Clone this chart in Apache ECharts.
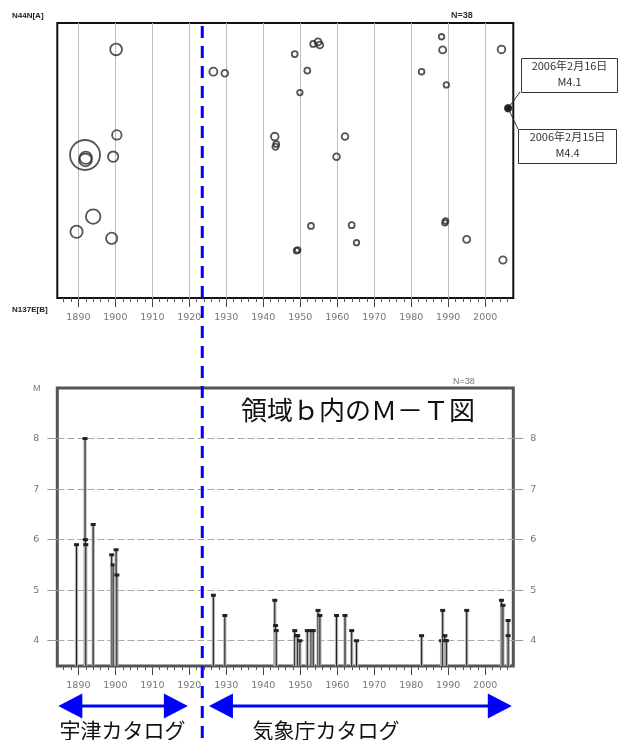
<!DOCTYPE html>
<html><head><meta charset="utf-8">
<script src="https://cdn.jsdelivr.net/npm/echarts@6/dist/echarts.min.js"></script>
<style>html,body{margin:0;padding:0;background:#fff}#c{width:632px;height:740px}</style>
</head><body><div id="c"></div>
<script>
// ---- data (38 events in region b) ----
const years = [1889.5, 1891.8, 1891.9, 1892.0, 1894.0, 1899.0, 1899.4, 1900.2, 1900.4,
  1926.5, 1929.6, 1943.1, 1943.3, 1943.5, 1948.5, 1949.0, 1949.3, 1949.9, 1951.9, 1952.9,
  1953.5, 1954.8, 1955.3, 1959.8, 1962.1, 1963.9, 1965.2, 1982.8, 1988.2, 1988.5, 1989.1,
  1989.3, 1989.5, 1995.0, 2004.4, 2004.8, 2006.2, 2006.2];
const mags = [5.9, 8.0, 6.0, 5.9, 6.3, 5.7, 5.5, 5.8, 5.3,
  4.9, 4.5, 4.8, 4.3, 4.2, 4.2, 4.1, 4.1, 4.0, 4.2, 4.2,
  4.2, 4.6, 4.5, 4.5, 4.5, 4.2, 4.0, 4.1, 4.0, 4.6, 4.1,
  4.0, 4.0, 4.6, 4.8, 4.7, 4.4, 4.1];
// position along profile A (0) -> B (100)
const positions = [75.9, 48.0, 49.8, 49.0, 70.4, 78.3, 48.6, 9.6, 40.7,
  17.7, 18.3, 41.3, 45.0, 44.0, 11.3, 82.8, 82.5, 25.3, 17.3, 73.8,
  7.6, 6.9, 8.0, 48.6, 41.3, 73.5, 79.9, 17.7, 5.0, 9.8, 72.6,
  72.0, 22.5, 78.7, 9.6, 86.2, 31.0, 31.0];
const decadeTicks = [1890, 1900, 1910, 1920, 1930, 1940, 1950, 1960, 1970, 1980, 1990, 2000];
const magTicks = [4, 5, 6, 7, 8];
const profileLabels = ['N44N[A]', 'N137E[B]'];
const countLabel = 'N=38';
const calloutDates = ['2006年2月16日', '2006年2月15日'];
const calloutMags = ['M4.1', 'M4.4'];
const titleText = '領域ｂ内のＭ－Ｔ図';
const catalogNames = ['宇津カタログ', '気象庁カタログ'];
const catalogBoundary = 1923.5;

// ---- layout ----
const X_MIN = 1884.3, X_MAX = 2007.6;
const M_MIN = 3.5, M_MAX = 9;
const minorTicks = [];
for (let y = 1886; y <= 2006; y += 2) minorTicks.push(y);

const scatterData = years.map((y, i) => [y, positions[i], mags[i]]);
const mtData = years.map((y, i) => [y, mags[i]]);

const labelFont = 'DejaVu Sans';
const axisLabelStyle = {color: '#777', fontSize: 9.5, fontFamily: labelFont, formatter: v => String(v)};

function majorX(grid, split) {
  return {
    gridIndex: grid, type: 'value', min: X_MIN, max: X_MAX, position: 'bottom',
    axisLine: {show: false, onZero: false},
    axisTick: {customValues: decadeTicks, length: 9, lineStyle: {color: '#444', width: 1}},
    axisLabel: Object.assign({customValues: decadeTicks, margin: 15}, axisLabelStyle),
    splitLine: {show: split, lineStyle: {color: '#bdbdbd', width: 1}}
  };
}
function minorX(grid) {
  return {
    gridIndex: grid, type: 'value', min: X_MIN, max: X_MAX, position: 'bottom',
    axisLine: {show: false, onZero: false},
    axisTick: {customValues: minorTicks, length: 4, lineStyle: {color: '#555', width: 1}},
    axisLabel: {show: false}, splitLine: {show: false}
  };
}

const chart = echarts.init(document.getElementById('c'));
chart.setOption({
  animation: false,
  backgroundColor: '#fff',
  grid: [
    {left: 57.3, top: 23, width: 456, height: 275, show: true, borderColor: '#111', borderWidth: 2, backgroundColor: 'transparent'},
    {left: 57.3, top: 388, width: 456, height: 278, show: true, borderColor: '#555', borderWidth: 3, backgroundColor: 'transparent'}
  ],
  xAxis: [majorX(0, true), minorX(0), majorX(1, false), minorX(1)],
  yAxis: [
    {gridIndex: 0, type: 'value', min: 0, max: 100, inverse: true,
      axisLine: {show: false, onZero: false}, axisTick: {show: false}, axisLabel: {show: false}, splitLine: {show: false}},
    {gridIndex: 1, type: 'value', min: M_MIN, max: M_MAX, position: 'left',
      axisLine: {show: false, onZero: false},
      axisTick: {customValues: magTicks, length: 10, lineStyle: {color: '#999'}},
      axisLabel: Object.assign({customValues: magTicks, margin: 18}, axisLabelStyle),
      splitLine: {show: true, lineStyle: {color: '#a8a8a8', type: [7, 3], width: 1}}},
    {gridIndex: 1, type: 'value', min: M_MIN, max: M_MAX, position: 'right',
      axisLine: {show: false, onZero: false},
      axisTick: {customValues: magTicks, length: 10, lineStyle: {color: '#999'}},
      axisLabel: Object.assign({customValues: magTicks, margin: 17}, axisLabelStyle),
      splitLine: {show: false}}
  ],
  series: [
    {
      type: 'scatter', xAxisIndex: 0, yAxisIndex: 0, data: scatterData,
      symbol: 'circle',
      symbolSize: v => 8 * Math.pow(10, 0.185 * (v[2] - 4.9)),
      itemStyle: {
        color: p => (p.value[0] > 2006 ? '#111' : 'rgba(255,255,255,0)'),
        borderColor: '#2a2a2a', borderWidth: 1.8
      },
      z: 5
    },
    {
      type: 'custom', xAxisIndex: 2, yAxisIndex: 1, data: mtData,
      encode: {x: 0, y: 1},
      renderItem: function (params, api) {
        const x = api.value(0), m = api.value(1);
        const top = api.coord([x, m]);
        const base = api.coord([x, M_MIN]);
        return {
          type: 'group', children: [
            {type: 'rect', shape: {x: top[0] - 1.6, y: top[1], width: 3.2, height: base[1] - top[1]}, style: {fill: '#b3b3b3'}},
            {type: 'line', shape: {x1: top[0], y1: top[1], x2: top[0], y2: base[1]}, style: {stroke: '#1e1e1e', lineWidth: 1}},
            {type: 'rect', shape: {x: top[0] - 2.5, y: top[1] - 1.5, width: 5, height: 3}, style: {fill: '#222'}}
          ]
        };
      },
      z: 5
    }
  ]
});

// ---- annotations positioned through the axes ----
const px = yr => chart.convertToPixel({xAxisIndex: 0}, yr);
const bx = px(catalogBoundary);
const lastEvt = chart.convertToPixel({xAxisIndex: 0, yAxisIndex: 0}, [years[years.length - 1], positions[positions.length - 1]]);
const xL = px(X_MIN), xR = px(X_MAX);
const arrowY = 706;
function arrow(x1, x2) {
  const hl = 24, hh = 12.5;
  return [
    {type: 'line', shape: {x1: x1 + hl - 2, y1: arrowY, x2: x2 - hl + 2, y2: arrowY}, style: {stroke: '#0000ff', lineWidth: 3}},
    {type: 'polygon', shape: {points: [[x1, arrowY], [x1 + hl, arrowY - hh], [x1 + hl, arrowY + hh]]}, style: {fill: '#0000ff'}},
    {type: 'polygon', shape: {points: [[x2, arrowY], [x2 - hl, arrowY - hh], [x2 - hl, arrowY + hh]]}, style: {fill: '#0000ff'}}
  ];
}
const txt = (x, y, t, o) => ({type: 'text', x: x, y: y, style: Object.assign({text: t, fill: '#222', fontSize: 9, fontFamily: 'Liberation Sans'}, o || {})});
const cjk = 'Noto Sans CJK JP';
const g = [
  {type: 'line', shape: {x1: bx, y1: 26, x2: bx, y2: 740}, style: {stroke: '#0000ff', lineWidth: 3, lineDash: [12, 8]}, z: 20},
  txt(12, 12, profileLabels[0], {fontWeight: 'bold', fontSize: 8}),
  txt(12, 306, profileLabels[1], {fontWeight: 'bold', fontSize: 8}),
  txt(451, 11, countLabel, {fontWeight: 'bold', fill: '#333'}),
  txt(453, 377, countLabel, {fill: '#777'}),
  txt(33, 384, 'M', {fill: '#777'}),
  {type: 'line', shape: {x1: lastEvt[0], y1: lastEvt[1], x2: 520, y2: 92}, style: {stroke: '#333', lineWidth: 1}},
  {type: 'line', shape: {x1: lastEvt[0], y1: lastEvt[1], x2: 518, y2: 129}, style: {stroke: '#333', lineWidth: 1}},
  {type: 'rect', shape: {x: 521.5, y: 58.5, width: 96, height: 34}, style: {fill: '#fff', stroke: '#333', lineWidth: 1}},
  {type: 'rect', shape: {x: 518.5, y: 129.5, width: 98, height: 34}, style: {fill: '#fff', stroke: '#333', lineWidth: 1}},
  txt(569.5, 60, calloutDates[0], {fontSize: 11, textAlign: 'center', fontFamily: cjk, fill: '#333'}),
  txt(569.5, 76, calloutMags[0], {fontSize: 11, textAlign: 'center', fontFamily: cjk, fill: '#333'}),
  txt(567.5, 131, calloutDates[1], {fontSize: 11, textAlign: 'center', fontFamily: cjk, fill: '#333'}),
  txt(567.5, 147, calloutMags[1], {fontSize: 11, textAlign: 'center', fontFamily: cjk, fill: '#333'}),
  txt(241, 397, titleText, {fontSize: 26, fontFamily: cjk, fill: '#111'})
];
arrow(xL + 1, px(1919.6)).forEach(e => g.push(e));
arrow(px(1925.3), px(2007.2)).forEach(e => g.push(e));
g.push(txt((xL + px(1919.6)) / 2, 720, catalogNames[0], {fontSize: 21, fontFamily: cjk, textAlign: 'center', fill: '#111'}));
g.push(txt(326, 720, catalogNames[1], {fontSize: 21, fontFamily: cjk, textAlign: 'center', fill: '#111'}));
chart.setOption({graphic: g});
</script>
</body></html>
